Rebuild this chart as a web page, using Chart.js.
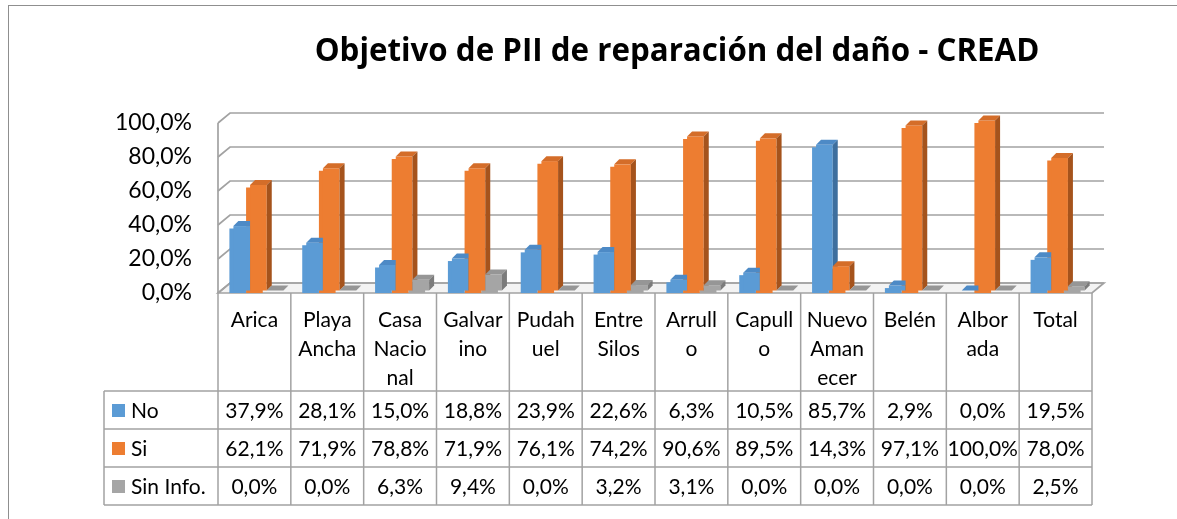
<!DOCTYPE html>
<html><head><meta charset="utf-8">
<script src="https://cdn.jsdelivr.net/npm/chart.js@4.4.0/dist/chart.umd.min.js"></script>
<style>
html,body{margin:0;padding:0;background:#fff;overflow:hidden;}
#wrap{position:relative;width:1177px;height:519px;}
#frame{position:absolute;left:8px;top:5px;width:1180px;height:520px;border-left:1.5px solid #8f8f8f;border-top:1.5px solid #8f8f8f;}
canvas{position:absolute;left:0;top:0;}
</style></head><body>
<div id="wrap"><div id="frame"></div><canvas id="c" width="1177" height="519"></canvas></div>
<script>
const chartTitle = 'Objetivo de PII de reparación del daño - CREAD';
const categories = [['Arica'],['Playa','Ancha'],['Casa','Nacio','nal'],['Galvar','ino'],['Pudah','uel'],['Entre','Silos'],['Arrull','o'],['Capull','o'],['Nuevo','Aman','ecer'],['Belén'],['Albor','ada'],['Total']];
const seriesNames = ['No','Si','Sin Info.'];
const valuesNo = [37.9, 28.1, 15.0, 18.8, 23.9, 22.6, 6.3, 10.5, 85.7, 2.9, 0.0, 19.5];
const valuesSi = [62.1, 71.9, 78.8, 71.9, 76.1, 74.2, 90.6, 89.5, 14.3, 97.1, 100.0, 78.0];
const valuesSinInfo = [0.0, 0.0, 6.3, 9.4, 0.0, 3.2, 3.1, 0.0, 0.0, 0.0, 0.0, 2.5];
const yTicks = [0, 20, 40, 60, 80, 100];

const frontColors = ['#5b9bd5', '#ed7d31', '#a5a5a5'];
const topColors = ['#4d8ac6', '#d46d29', '#969696'];
const sideColors = ['#3e6f9e', '#a5531c', '#7b7b7b'];
const gridColor = '#a2a2a2';
const FONT = 'Lato, "Open Sans", sans-serif';
const TITLE_FONT = '"Open Sans", Lato, sans-serif';
const fmt = v => v.toFixed(1).replace('.', ',') + '%';

const WALL = {dx: 12, dy: -10};
const BAR = {dx: 5, dy: -5, shiftX: 4, shiftY: -2.5};
const TABLE = {legendLeft: 104, rows: [391, 429, 467, 505], headerFirst: 319, headerStep: 29};
const TITLE_BOX = {cx: 677, cy: 52, width: 725};

const threeD = {
  id: 'threeD',
  beforeDatasetsDraw(chart) {
    const {ctx, chartArea: a, scales: {y}} = chart;
    ctx.save();
    const y0 = y.getPixelForValue(0);
    ctx.lineWidth = 1.7;
    ctx.strokeStyle = gridColor;
    ctx.beginPath();
    ctx.moveTo(a.left, y0); ctx.lineTo(a.right, y0);
    ctx.lineTo(a.right + WALL.dx, y0 + WALL.dy); ctx.lineTo(a.left + WALL.dx, y0 + WALL.dy);
    ctx.closePath();
    ctx.fillStyle = '#f3f3f3'; ctx.fill(); ctx.stroke();
    yTicks.forEach(v => {
      const py = y.getPixelForValue(v);
      ctx.beginPath();
      ctx.moveTo(a.left, py);
      ctx.lineTo(a.left + WALL.dx, py + WALL.dy);
      ctx.lineTo(a.right + WALL.dx, py + WALL.dy);
      ctx.stroke();
    });
    ctx.beginPath();
    ctx.moveTo(a.left, y.getPixelForValue(yTicks[yTicks.length - 1]));
    ctx.lineTo(a.left, y0);
    ctx.stroke();
    ctx.restore();
  },
  afterDatasetsDraw(chart) {
    const {ctx} = chart;
    const n = chart.data.labels.length;
    ctx.save();
    for (let i = 0; i < n; i++) {
      for (let d = 0; d < chart.data.datasets.length; d++) {
        const el = chart.getDatasetMeta(d).data[i];
        const p = el.getProps(['x', 'y', 'base', 'width'], true);
        const l = p.x - p.width / 2 + BAR.shiftX, r = p.x + p.width / 2 + BAR.shiftX;
        const t = p.y + BAR.shiftY, b = p.base + BAR.shiftY;
        ctx.fillStyle = frontColors[d];
        ctx.fillRect(l, t, r - l, b - t);
        ctx.fillStyle = topColors[d];
        ctx.beginPath();
        ctx.moveTo(l, t); ctx.lineTo(r, t); ctx.lineTo(r + BAR.dx, t + BAR.dy); ctx.lineTo(l + BAR.dx, t + BAR.dy);
        ctx.closePath(); ctx.fill();
        ctx.fillStyle = sideColors[d];
        ctx.beginPath();
        ctx.moveTo(r, t); ctx.lineTo(r + BAR.dx, t + BAR.dy); ctx.lineTo(r + BAR.dx, b + BAR.dy); ctx.lineTo(r, b);
        ctx.closePath(); ctx.fill();
      }
    }
    ctx.restore();
  },
  afterDraw(chart) {
    const {ctx, chartArea: a, scales: {x, y}} = chart;
    const n = chart.data.labels.length;
    const colW = (a.right - a.left) / n;
    const y0 = y.getPixelForValue(0);
    const rows = TABLE.rows;
    ctx.save();
    // title, sized to the reference's title width
    ctx.fillStyle = '#000';
    ctx.font = 'bold 30px ' + TITLE_FONT;
    const w30 = ctx.measureText(chartTitle).width;
    const ts = Math.min(36, 30 * TITLE_BOX.width / w30);
    ctx.font = 'bold ' + ts.toFixed(1) + 'px ' + TITLE_FONT;
    ctx.textAlign = 'center'; ctx.textBaseline = 'middle';
    ctx.fillText(chartTitle, TITLE_BOX.cx, TITLE_BOX.cy);
    // table lines
    ctx.strokeStyle = gridColor; ctx.lineWidth = 1.5;
    for (let i = 0; i <= n; i++) {
      const bx = x.getPixelForValue(0) - colW / 2 + i * colW;
      ctx.beginPath(); ctx.moveTo(bx, y0); ctx.lineTo(bx, rows[3]); ctx.stroke();
    }
    ctx.beginPath(); ctx.moveTo(TABLE.legendLeft, rows[0]); ctx.lineTo(TABLE.legendLeft, rows[3]); ctx.stroke();
    rows.forEach(ry => { ctx.beginPath(); ctx.moveTo(TABLE.legendLeft, ry); ctx.lineTo(a.right, ry); ctx.stroke(); });
    // header labels
    ctx.fillStyle = '#000';
    ctx.font = '21px ' + FONT;
    ctx.textAlign = 'center'; ctx.textBaseline = 'middle';
    categories.forEach((lines, i) => {
      const cx = x.getPixelForValue(i);
      lines.forEach((ln, k) => ctx.fillText(ln, cx, TABLE.headerFirst + k * TABLE.headerStep + 1));
    });
    // rows
    chart.data.datasets.forEach((ds, d) => {
      const cy = (rows[d] + rows[d + 1]) / 2 + 1;
      ctx.fillStyle = frontColors[d];
      ctx.fillRect(TABLE.legendLeft + 8, cy - 7, 13, 13);
      ctx.fillStyle = '#000';
      ctx.textAlign = 'left';
      ctx.fillText(seriesNames[d], TABLE.legendLeft + 27, cy);
      ctx.textAlign = 'center';
      ds.data.forEach((v, i) => ctx.fillText(fmt(v), x.getPixelForValue(i), cy));
    });
    ctx.restore();
  }
};

new Chart(document.getElementById('c'), {
  type: 'bar',
  data: {
    labels: categories.map(c => c.join('')),
    datasets: [
      {label: seriesNames[0], data: valuesNo, backgroundColor: frontColors[0]},
      {label: seriesNames[1], data: valuesSi, backgroundColor: frontColors[1]},
      {label: seriesNames[2], data: valuesSinInfo, backgroundColor: frontColors[2]}
    ]
  },
  options: {
    responsive: false,
    animation: false,
    devicePixelRatio: 1,
    layout: {padding: {top: 123, right: 85, bottom: 226, left: 0}},
    datasets: {bar: {categoryPercentage: 0.687, barPercentage: 1}},
    plugins: {legend: {display: false}, tooltip: {enabled: false}, title: {display: false}},
    scales: {
      x: {display: false},
      y: {
        min: 0, max: 100,
        afterFit: s => { s.width = 218; },
        afterBuildTicks: s => { s.ticks = yTicks.map(v => ({value: v})); },
        ticks: {callback: v => fmt(v), font: {family: FONT, size: 23}, color: '#000', padding: 26},
        grid: {display: false, drawTicks: false},
        border: {display: false}
      }
    }
  },
  plugins: [threeD]
});
</script>
</body></html>
